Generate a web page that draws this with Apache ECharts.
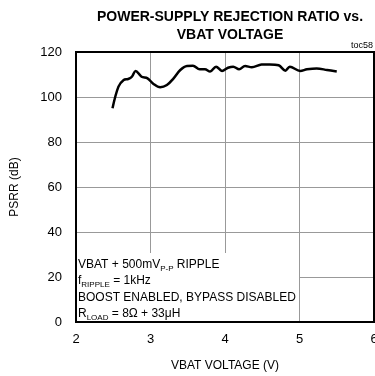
<!DOCTYPE html>
<html><head><meta charset="utf-8">
<script src="https://cdn.jsdelivr.net/npm/echarts@6/dist/echarts.min.js"></script>
<style>html,body{margin:0;padding:0;background:#fff}#c{width:375px;height:376px}</style>
</head><body><div id="c"></div>
<script>
var vbat = [2.49,2.57,2.64,2.70,2.75,2.80,2.88,2.96,3.04,3.13,3.22,3.31,3.40,3.49,3.57,3.66,3.73,3.80,3.88,3.96,4.04,4.11,4.19,4.27,4.36,4.49,4.60,4.72,4.81,4.87,5.01,5.10,5.23,5.37,5.50];
var psrr = [95.0,104.6,107.6,108.0,109.0,111.6,109.0,108.3,105.8,104.3,105.3,108.3,112.0,113.8,113.9,112.3,112.3,111.3,113.5,111.6,113.0,113.5,112.3,113.8,113.2,114.4,114.5,114.1,111.7,113.5,111.6,112.3,112.7,112.0,111.3];
var xTicks = [2,3,4,5,6];
var yTicks = [0,20,40,60,80,100,120];
var FONT = '"Liberation Sans", Arial, sans-serif';
var chart = echarts.init(document.getElementById('c'));
chart.setOption({
  animation: false,
  backgroundColor: '#fff',
  textStyle: {fontFamily: FONT},
  title: {
    text: 'POWER-SUPPLY REJECTION RATIO vs.\nVBAT VOLTAGE',
    left: 225, top: 3, textAlign: 'center',
    textStyle: {fontFamily: FONT, fontSize: 14, fontWeight: 'bold', color: '#000', lineHeight: 18}
  },
  grid: {left: 76, right: 1, top: 52, bottom: 54, show: true, borderColor: '#000', borderWidth: 2, z: 10, outerBoundsMode: 'none', containLabel: false},
  xAxis: {
    type: 'value', min: xTicks[0], max: xTicks[xTicks.length-1], interval: 1,
    name: 'VBAT VOLTAGE (V)', nameLocation: 'middle', nameGap: 38,
    nameTextStyle: {fontFamily: FONT, fontSize: 12, color: '#000'},
    axisLine: {show: false}, axisTick: {show: false},
    axisLabel: {fontFamily: FONT, fontSize: 13, color: '#000', margin: 11},
    splitLine: {show: true, lineStyle: {color: '#999', width: 1}}
  },
  yAxis: {
    type: 'value', min: yTicks[0], max: yTicks[yTicks.length-1], interval: 20,
    name: 'PSRR (dB)', nameLocation: 'middle', nameGap: 55, nameRotate: 90,
    nameTextStyle: {fontFamily: FONT, fontSize: 12, color: '#000'},
    axisLine: {show: false}, axisTick: {show: false},
    axisLabel: {fontFamily: FONT, fontSize: 13, color: '#000', margin: 14},
    splitLine: {show: true, lineStyle: {color: '#999', width: 1}}
  },
  series: [{
    type: 'line', smooth: 0.35, symbol: 'none',
    data: vbat.map(function(v, i){ return [v, psrr[i]]; }),
    lineStyle: {color: '#000', width: 2.5}, z: 6
  }],
  graphic: [
    {type: 'rect', z: 5, shape: {x: 77, y: 253, width: 222, height: 68}, style: {fill: '#fff'}},
    {type: 'text', z: 6, left: 78, top: 256, style: {
      text: 'VBAT + 500mV{s|P-P} RIPPLE\nf{s|RIPPLE} = 1kHz\nBOOST ENABLED, BYPASS DISABLED\nR{s|LOAD} = 8Ω + 33μH',
      font: '12px ' + FONT, fill: '#000', lineHeight: 16.5,
      rich: {s: {fontSize: 8, fontFamily: FONT, fill: '#000', verticalAlign: 'bottom', lineHeight: 16.5, padding: [5,0,0,0]}}
    }},
    {type: 'text', z: 6, right: 2, top: 41, style: {text: 'toc58', font: '9px ' + FONT, fill: '#000'}}
  ]
});
</script></body></html>
